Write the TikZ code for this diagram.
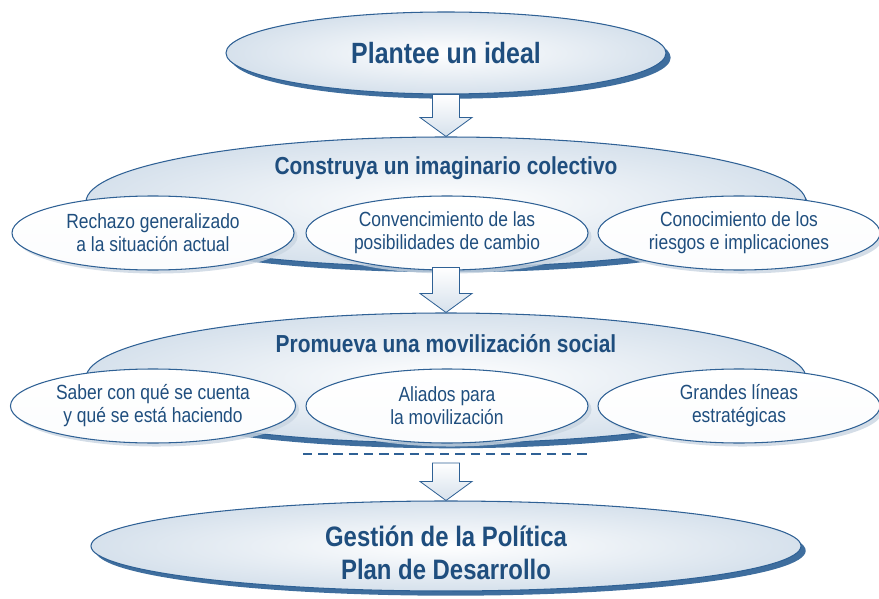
\documentclass[tikz,border=0pt]{standalone}
\usepackage{fontspec}
\setmainfont{Liberation Sans}[FakeStretch=0.85]
\usepackage{xcolor}
\usetikzlibrary{shapes.geometric, shadows, calc}

\definecolor{inkblue}{HTML}{1F4E7E}
\definecolor{edgeblue}{HTML}{2F6195}
\definecolor{shadeblue}{HTML}{3F6E9E}
\definecolor{paleblue}{HTML}{D6E1EC}
\definecolor{mistblue}{HTML}{C9D5E1}

% hollow block arrow pointing down, #1 = top of shaft, #2 = tip
\newcommand{\blockdown}[2]{%
  \draw[blockarrow] ($(#1)+(-13.5,0)$) -- ($(#2)+(-13.5,-19)$) -- ($(#2)+(-26,-19)$) -- (#2)
    -- ($(#2)+(26,-19)$) -- ($(#2)+(13.5,-19)$) -- ($(#1)+(13.5,0)$) -- cycle;}

\begin{document}
\begin{tikzpicture}[
    x=0.03cm, y=-0.03cm,
    ideabox/.style={ellipse, draw=edgeblue, line width=0.9pt, inner color=white, outer color=paleblue,
      drop shadow={shadow xshift=4pt, shadow yshift=-4pt, fill=shadeblue, opacity=1},
      minimum width=13.2cm, minimum height=2.46cm, text=inkblue, font=\bfseries\fontsize{25}{30}\selectfont},
    stagebox/.style={ellipse, draw=edgeblue, line width=0.9pt, inner color=white, outer color=paleblue,
      drop shadow={shadow xshift=3pt, shadow yshift=-4.5pt, fill=shadeblue, opacity=1},
      minimum width=21.6cm, minimum height=3.9cm},
    stagetitle/.style={text=inkblue, font=\bfseries\fontsize{21}{25}\selectfont},
    subbox/.style={ellipse, draw=edgeblue, line width=0.9pt, top color=white, bottom color=white!90!paleblue,
      drop shadow={shadow xshift=3pt, shadow yshift=-3pt, fill=mistblue, opacity=0.8},
      minimum width=8.46cm, minimum height=2.22cm, align=center, text=inkblue,
      font=\fontsize{17.5}{19.6}\selectfont},
    goalbox/.style={ellipse, draw=edgeblue, line width=0.9pt, inner color=white, outer color=paleblue,
      drop shadow={shadow xshift=4pt, shadow yshift=-4pt, fill=shadeblue, opacity=1},
      minimum width=21.3cm, minimum height=2.7cm},
    goaltext/.style={align=center, text=inkblue, font=\bfseries\fontsize{24}{28}\selectfont},
    blockarrow/.style={draw=edgeblue, line width=0.7pt, top color=white, bottom color=paleblue, line join=miter},
    dashline/.style={draw=edgeblue, line width=1.1pt, dash pattern=on 8pt off 5pt},
]
\useasboundingbox (0,0) rectangle (879,599);

\node[ideabox] (ideal) at (446,53) {Plantee un ideal};

% second stage
\node[stagebox] (imag) at (446,202) {};
\node[stagetitle] (imagtitle) at ($(imag.north)+(0,32)$) {Construya un imaginario colectivo};
\node[subbox] (rechazo) at (153,233) {Rechazo generalizado\\a la situación actual};
\node[subbox] (conven) at (447,233) {Convencimiento de las\\posibilidades de cambio};
\node[subbox] (riesgos) at (739,233) {Conocimiento de los\\riesgos e implicaciones};

% third stage
\node[stagebox] (movil) at (446,378) {};
\node[stagetitle] (moviltitle) at ($(movil.north)+(0,31)$) {Promueva una movilización social};
\node[subbox] (saber) at (153,406) {Saber con qué se cuenta\\y qué se está haciendo};
\node[subbox] (aliados) at (447,406) {Aliados para\\la movilización};
\node[subbox] (lineas) at (739,406) {Grandes líneas\\estratégicas};

\coordinate (dashL) at (303,454);
\coordinate (dashR) at (592,454);
\coordinate (gap) at (446,463);
\draw[dashline] (dashL) -- (dashR);

\node[goalbox] (gestion) at (446,546) {};
\node[goaltext] (gestiontext) at ($(gestion.center)+(0,7)$) {Gestión de la Política\\Plan de Desarrollo};

\blockdown{ideal.south}{imag.north}
\blockdown{imag.south}{movil.north}
\blockdown{gap}{gestion.north}

\end{tikzpicture}
\end{document}
